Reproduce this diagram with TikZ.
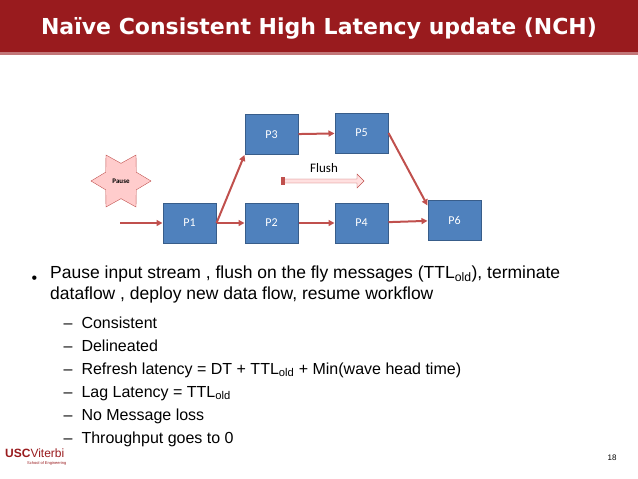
\documentclass[tikz,border=0pt]{standalone}
\usepackage{fontspec}
\setmainfont{Liberation Sans}
\newfontfamily\calibri{Carlito}
\newfontfamily\titlefont{DejaVu Sans}
\usetikzlibrary{shapes.geometric,shapes.arrows,arrows.meta}
\definecolor{uscred}{RGB}{153,27,30}
\definecolor{boxblue}{RGB}{79,129,189}
\definecolor{boxedge}{RGB}{56,93,138}
\definecolor{linkred}{RGB}{192,80,77}
\begin{document}
\begin{tikzpicture}[x=1pt,y=-1pt,
  proc/.style = {rectangle, draw=boxedge, fill=boxblue, line width=1pt, minimum width=53pt, minimum height=40pt, text=white, font=\calibri\fontsize{12}{14}\selectfont},
  link/.style = {draw=linkred, line width=2pt, -{Triangle[length=6pt,width=6pt]}},
  sub/.style = {anchor=base west, font=\fontsize{16}{19}\selectfont}
]
  \useasboundingbox (0,0) rectangle (638,479);
  % title bar
  \fill[uscred] (0,0) rectangle (638,52);
  \fill[uscred!60] (0,52) rectangle (638,55);
  \node[text=white, font=\titlefont\bfseries\fontsize{22}{26}\selectfont] (title) at (319,28) {Naïve Consistent High Latency update (NCH)};
  % processes
  \node[proc] (p1) at (189.5,223) {P1};
  \node[proc] (p2) at (271.5,223) {P2};
  \node[proc] (p3) at (271.5,134.5) {P3};
  \node[proc] (p5) at (361.5,133) {P5};
  \node[proc] (p4) at (361.5,223) {P4};
  \node[proc] (p6) at (454.5,220) {P6};
  \node[star, star points=6, star point ratio=1.7, minimum size=60pt, rotate=90, draw=linkred, fill=red!20, inner sep=0pt] (pause) at (121,181) {};
  \node[font=\calibri\bfseries\fontsize{7}{8}\selectfont] (pauselbl) at (pause) {Pause};
  \coordinate (in) at (120,223);
  \draw[link] (in) -- (p1);
  \draw[link] (p1.east) -- (p2);
  \draw[link] (p1.east) -- (p3.south west);
  \draw[link] (p3) -- (p5);
  \draw[link] (p2) -- (p4);
  \draw[link] (p4) -- (p6);
  \draw[link] (p5.east) -- ([yshift=-6pt]p6.north west);
  % flush
  \node[font=\calibri\fontsize{13}{15}\selectfont] (flush) at (324,168) {Flush};
  \node[single arrow, draw=linkred, fill=red!12, minimum height=82pt, minimum width=14pt, single arrow head extend=3pt, inner sep=1pt] (farrow) at (322,181) {};
  \fill[linkred] (281,177) rectangle (285,185);
  % text
  \node[anchor=base west, font=\fontsize{16}{19}\selectfont] (b0) at (28,283) {•};
  \node[anchor=north west, align=left, font=\fontsize{17.5}{21}\selectfont, inner sep=0pt] (b1) at (50,266) {Pause input stream , flush on the fly messages (TTL\textsubscript{old}), terminate\\dataflow , deploy new data flow, resume workflow};
  \foreach \y/\t in {328/Consistent, 351/Delineated, 374/{Refresh latency = DT + TTL\textsubscript{old} + Min(wave head time)}, 397/{Lag Latency = TTL\textsubscript{old}}, 420/No Message loss, 443/Throughput goes to 0} {
    \node[sub] at (60,\y) {–};
    \node[sub] at (78,\y) {\t};
  }
  % footer
  \node[anchor=west, text=uscred, font=\rmfamily\bfseries\fontsize{12}{13}\selectfont, inner sep=0pt] (usc) at (5,453) {USC\textmd{Viterbi}};
  \node[anchor=west, text=uscred, font=\rmfamily\fontsize{4}{5}\selectfont, inner sep=0pt] (soe) at (27,463) {School of Engineering};
  \node[font=\fontsize{8}{9}\selectfont] (pg) at (612,458) {18};
\end{tikzpicture}
\end{document}
